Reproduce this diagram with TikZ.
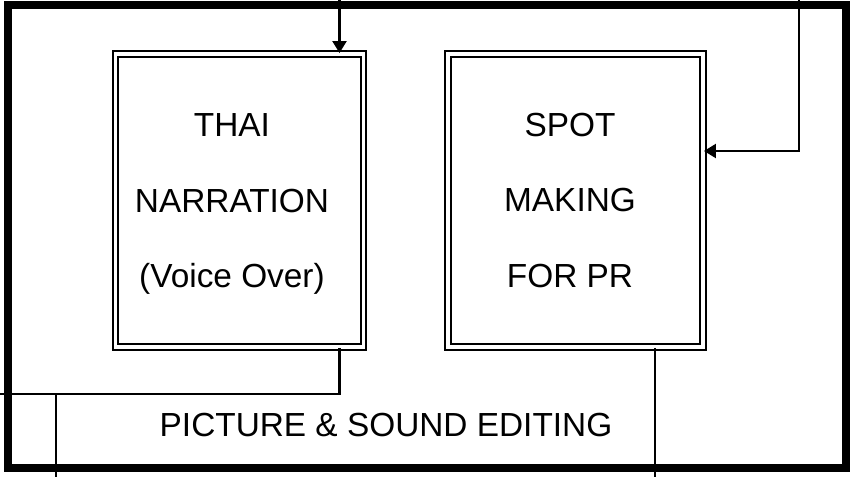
\documentclass[tikz,border=0pt]{standalone}
\usepackage{fontspec}
\setmainfont{Liberation Sans}
\usetikzlibrary{arrows.meta}

\begin{document}
\begin{tikzpicture}[x=0.02cm, y=-0.02cm, line join=miter,
    frame/.style={line width=0.15cm},
    stage/.style={draw, double, double distance=0.07cm, line width=0.04cm,
        inner sep=0pt, minimum height=5.86cm},
    caption/.style={align=center, font=\fontsize{19}{43}\selectfont},
    link/.style={line width=0.045cm},
    feed/.style={link, -{Triangle[length=0.24cm, width=0.28cm]}}]
    \useasboundingbox (0,0) rectangle (854,477);

    % Outer frame of the editing stage
    \draw[frame] (8,5) rectangle (846,468);
    \node[font=\fontsize{19}{23}\selectfont] (edit) at (386,425) {PICTURE \& SOUND EDITING};

    % The two inner stages
    \node[stage, minimum width=4.96cm] (narr) at (239.5,200.5) {};
    \node[stage, minimum width=5.1cm] (spot) at (575.5,200.5) {};
    \node[caption] (narrText) at (232,204) {THAI\\NARRATION\\(Voice Over)};
    \node[caption] (spotText) at (570,200.5) {SPOT\\MAKING\\FOR PR};

    % Free ends of the connectors
    \coordinate (inA) at (339.5,0);
    \coordinate (inB) at (799,0);
    \coordinate (spotIn) at (0,151);
    \coordinate (outA) at (0,394);
    \coordinate (outC) at (56,477);
    \coordinate (outB) at (655,477);

    % Incoming lines
    \draw[feed] (inA) -- (inA |- narr.north);
    \draw[feed] (inB) |- (spot.east |- spotIn);

    % Outgoing lines
    \draw[link] (narr.south -| inA) |- (outA);
    \draw[link] (outA -| outC) -- (outC);
    \draw[link] (spot.south -| outB) -- (outB);
\end{tikzpicture}
\end{document}
